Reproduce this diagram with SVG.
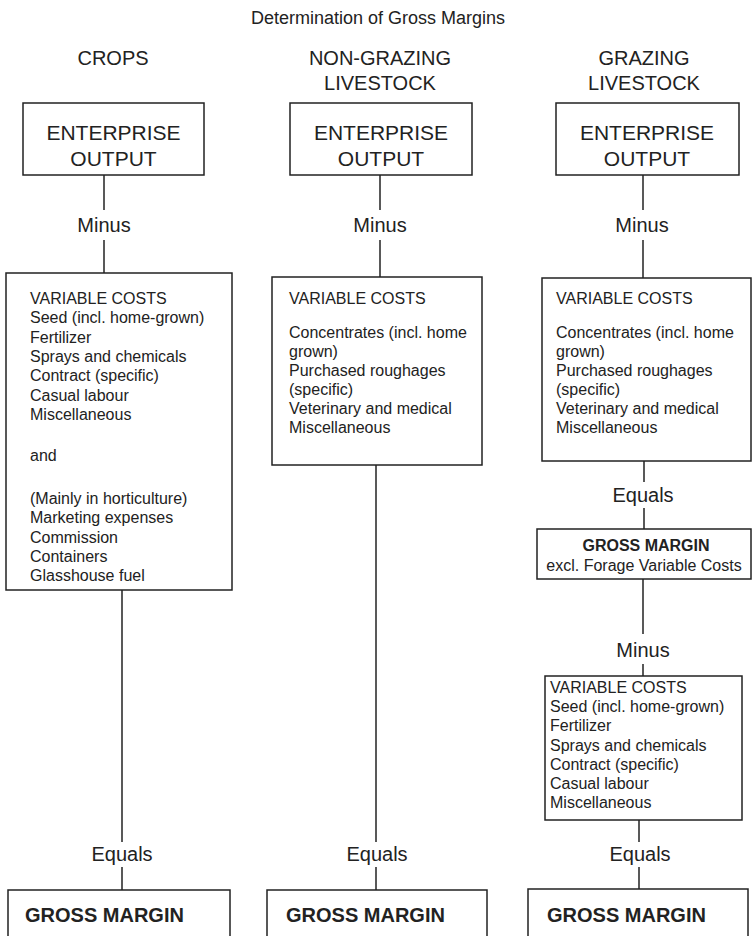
<svg xmlns="http://www.w3.org/2000/svg" width="752" height="936" viewBox="0 0 752 936">
<style>
text{font-family:"Liberation Sans",Arial,sans-serif;fill:#222}
.t{font-size:18px;text-anchor:middle}
.h{font-size:20px;text-anchor:middle}
.e{font-size:21px;text-anchor:middle}
.l{font-size:20px;text-anchor:middle}
.s{font-size:16px}
.gm{font-size:20px;font-weight:bold}
.gs{font-size:16px;font-weight:bold;text-anchor:middle}
.gx{font-size:16px;text-anchor:middle}
rect{fill:#fff;stroke:#222;stroke-width:1.5}
#connectors line{stroke:#222;stroke-width:1.5}
</style>
<rect x="0" y="0" width="752" height="936" style="stroke:none"/>
<text class="t" x="378" y="24">Determination of Gross Margins</text>
<g id="headers">
<text class="h" x="113" y="65">CROPS</text>
<text class="h" x="380" y="65">NON-GRAZING</text>
<text class="h" x="380" y="90">LIVESTOCK</text>
<text class="h" x="644" y="65">GRAZING</text>
<text class="h" x="644" y="90">LIVESTOCK</text>
</g>
<g id="connectors">
<line x1="104" y1="175" x2="104" y2="210"/>
<line x1="104" y1="240" x2="104" y2="273"/>
<line x1="122" y1="590" x2="122" y2="842"/>
<line x1="122" y1="867" x2="122" y2="890"/>
<line x1="380" y1="175" x2="380" y2="210"/>
<line x1="380" y1="240" x2="380" y2="277"/>
<line x1="376" y1="465" x2="376" y2="842"/>
<line x1="376" y1="867" x2="376" y2="890"/>
<line x1="643" y1="175" x2="643" y2="210"/>
<line x1="643" y1="240" x2="643" y2="278"/>
<line x1="644" y1="461" x2="644" y2="482"/>
<line x1="644" y1="508" x2="644" y2="529"/>
<line x1="643" y1="579" x2="643" y2="634"/>
<line x1="643" y1="664" x2="643" y2="676"/>
<line x1="639" y1="820" x2="639" y2="842"/>
<line x1="639" y1="867" x2="639" y2="889"/>
</g>
<g id="labels">
<text class="l" x="104" y="232">Minus</text>
<text class="l" x="380" y="232">Minus</text>
<text class="l" x="642" y="232">Minus</text>
<text class="l" x="122" y="861">Equals</text>
<text class="l" x="377" y="861">Equals</text>
<text class="l" x="643" y="502">Equals</text>
<text class="l" x="643" y="657">Minus</text>
<text class="l" x="640" y="861">Equals</text>
</g>
<g id="crops-output">
<rect x="23" y="103" width="181" height="72"/>
<text class="e" x="113.5" y="140">ENTERPRISE</text>
<text class="e" x="113.5" y="166">OUTPUT</text>
</g>
<g id="nongrazing-output">
<rect x="290" y="103" width="182" height="72"/>
<text class="e" x="381" y="140">ENTERPRISE</text>
<text class="e" x="381" y="166">OUTPUT</text>
</g>
<g id="grazing-output">
<rect x="556" y="103" width="183" height="72"/>
<text class="e" x="647" y="140">ENTERPRISE</text>
<text class="e" x="647" y="166">OUTPUT</text>
</g>
<g id="crops-costs">
<rect x="6" y="273" width="226" height="317"/>
<text class="s" x="30" y="304">VARIABLE COSTS</text>
<text class="s" x="30" y="323">Seed (incl. home-grown)</text>
<text class="s" x="30" y="343">Fertilizer</text>
<text class="s" x="30" y="362">Sprays and chemicals</text>
<text class="s" x="30" y="381">Contract (specific)</text>
<text class="s" x="30" y="401">Casual labour</text>
<text class="s" x="30" y="420">Miscellaneous</text>
<text class="s" x="30" y="461">and</text>
<text class="s" x="30" y="504">(Mainly in horticulture)</text>
<text class="s" x="30" y="523">Marketing expenses</text>
<text class="s" x="30" y="543">Commission</text>
<text class="s" x="30" y="562">Containers</text>
<text class="s" x="30" y="581">Glasshouse fuel</text>
</g>
<g id="nongrazing-costs">
<rect x="272" y="277" width="210" height="188"/>
<text class="s" x="289" y="304">VARIABLE COSTS</text>
<text class="s" x="289" y="338">Concentrates (incl. home</text>
<text class="s" x="289" y="357">grown)</text>
<text class="s" x="289" y="376">Purchased roughages</text>
<text class="s" x="289" y="395">(specific)</text>
<text class="s" x="289" y="414">Veterinary and medical</text>
<text class="s" x="289" y="433">Miscellaneous</text>
</g>
<g id="grazing-costs">
<rect x="542" y="278" width="209" height="183"/>
<text class="s" x="556" y="304">VARIABLE COSTS</text>
<text class="s" x="556" y="338">Concentrates (incl. home</text>
<text class="s" x="556" y="357">grown)</text>
<text class="s" x="556" y="376">Purchased roughages</text>
<text class="s" x="556" y="395">(specific)</text>
<text class="s" x="556" y="414">Veterinary and medical</text>
<text class="s" x="556" y="433">Miscellaneous</text>
</g>
<g id="grazing-gm-excl">
<rect x="537" y="529" width="214" height="50"/>
<text class="gs" x="646" y="551">GROSS MARGIN</text>
<text class="gx" x="644" y="571">excl. Forage Variable Costs</text>
</g>
<g id="forage-costs">
<rect x="545" y="676" width="197" height="144"/>
<text class="s" x="550" y="693">VARIABLE COSTS</text>
<text class="s" x="550" y="712">Seed (incl. home-grown)</text>
<text class="s" x="550" y="731">Fertilizer</text>
<text class="s" x="550" y="751">Sprays and chemicals</text>
<text class="s" x="550" y="770">Contract (specific)</text>
<text class="s" x="550" y="789">Casual labour</text>
<text class="s" x="550" y="808">Miscellaneous</text>
</g>
<g id="crops-gm">
<rect x="8" y="890" width="222" height="60"/>
<text class="gm" x="25" y="922">GROSS MARGIN</text>
</g>
<g id="nongrazing-gm">
<rect x="267" y="890" width="220" height="60"/>
<text class="gm" x="286" y="922">GROSS MARGIN</text>
</g>
<g id="grazing-gm">
<rect x="528" y="889" width="220" height="60"/>
<text class="gm" x="547" y="922">GROSS MARGIN</text>
</g>
</svg>
